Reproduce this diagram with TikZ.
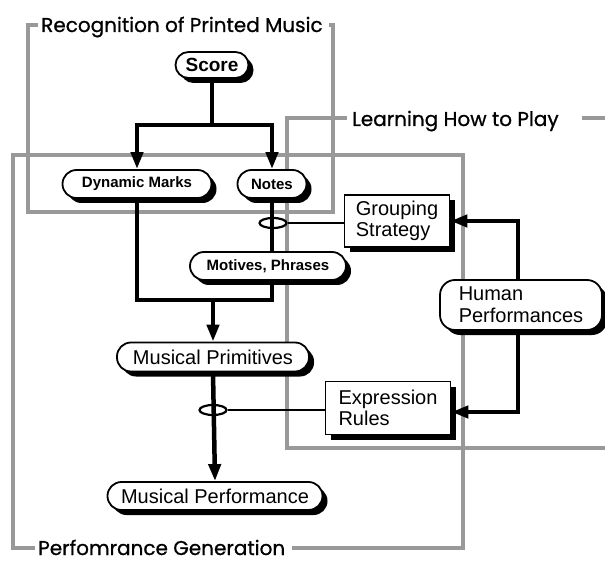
\documentclass[tikz,border=0pt]{standalone}
\usepackage{fontspec}
\setmainfont{Liberation Sans}
\newfontfamily\framefont{Poppins}[FakeBold=0.8]
\usetikzlibrary{shadows,arrows.meta,shapes.geometric}
\begin{document}
\begin{tikzpicture}[x=1pt,y=-1pt,
  shd/.style={drop shadow={shadow xshift=5pt,shadow yshift=-5pt,fill=black,opacity=1}},
  pill/.style={draw,line width=1.8pt,fill=white,shd,inner sep=0pt,align=center},
  boxnode/.style={draw,line width=1.8pt,fill=white,shd,inner sep=0pt,align=left,
    font=\fontsize{20}{21.5}\selectfont},
  small/.style={font=\fontsize{15}{17}\selectfont\bfseries},
  big/.style={font=\fontsize{20}{22}\selectfont},
  conn/.style={line width=4.5pt,line join=miter,line cap=butt},
  arr/.style={-{Triangle[length=17pt,width=12pt]}},
  thinconn/.style={line width=1.8pt},
  ring/.style={draw,ellipse,line width=2.2pt,minimum width=27pt,minimum height=10pt,inner sep=0pt},
  frame/.style={draw=black!40,line width=4pt,line cap=square},
  flabel/.style={font=\framefont\fontsize{20}{22}\selectfont,inner sep=0pt,text=black}
]
\useasboundingbox (0,0) rectangle (605,561);

% frames
\draw[frame] (38,25) -- (28,25) -- (28,212) -- (333,212) -- (333,25) -- (329,25);
\node[flabel,anchor=base west] (lrec) at (41,32) {Recognition of Printed Music};
\draw[frame] (347,118) -- (287,118) -- (287,448) -- (607,448);
\draw[frame] (582,118) -- (607,118);
\node[flabel,anchor=base west] (llearn) at (352,126) {Learning How to Play};
\draw[frame] (35,548) -- (13,548) -- (13,155) -- (463,155) -- (463,548) -- (292,548);
\node[flabel,anchor=base west] (lperf) at (38,555) {Perfomrance Generation};

% nodes
\node[pill,rounded corners=13pt,minimum width=73pt,minimum height=26pt,
      font=\fontsize{19}{21}\selectfont\bfseries] (score) at (212,65) {Score};
\node[pill,small,rounded corners=14pt,minimum width=149pt,minimum height=28pt] (dyn) at (137,184) {Dynamic Marks};
\node[pill,small,rounded corners=14pt,minimum width=69pt,minimum height=28pt] (notes) at (272,184) {Notes};
\node[pill,small,rounded corners=14pt,minimum width=156pt,minimum height=28pt] (mot) at (268,266) {Motives, Phrases};
\node[pill,big,rounded corners=14pt,minimum width=192pt,minimum height=29pt] (prim) at (213,357) {Musical Primitives};
\node[pill,big,rounded corners=14pt,minimum width=215pt,minimum height=28pt] (perf) at (215,496) {Musical Performance};
\node[pill,rounded corners=15pt,minimum width=162pt,minimum height=50pt,align=left,
      font=\fontsize{20}{22}\selectfont] (human) at (521,305) {Human\\Performances};
\node[boxnode,minimum width=105pt,minimum height=52pt] (group) at (397,221) {Grouping\\Strategy};
\node[boxnode,minimum width=125pt,minimum height=53pt] (expr) at (388,408) {Expression\\Rules};

% connectors
\coordinate (j1) at (212,125);
\coordinate (j2) at (213,300);
\draw[conn] (score.south) -- (j1);
\draw[conn,arr] (j1) -| (dyn.north);
\draw[conn,arr] (j1) -| (notes.north);
\draw[conn] (notes.south) -- (notes.south |- mot.north);
\draw[conn] (dyn.south) |- (notes.south |- j2) -- (notes.south |- mot.south);
\draw[conn,arr] (j2) -- (prim.north);
\draw[conn,arr] (prim.south) -- (perf.north);

\node[ring] (r1) at (273,223) {};
\node[ring] (r2) at (213,410) {};
\draw[thinconn] (r1.east) -- (r1 -| group.west);
\draw[thinconn] (r2.east) -- (r2 -| expr.west);

\draw[conn,arr] ([xshift=-3pt]human.north) |- (group.east);
\draw[conn,arr] ([xshift=-3pt]human.south) |- ([yshift=-4pt]expr.east);
\end{tikzpicture}
\end{document}
